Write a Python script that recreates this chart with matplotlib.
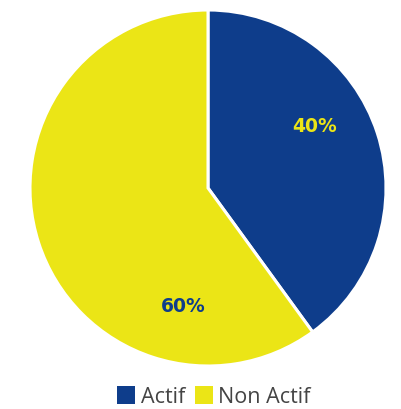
import matplotlib.pyplot as plt
import numpy as np

labels = ['Actif', 'Non Actif']
values = [40, 60]
colors = ['#0e3d8b', '#ebe516']
label_colors = ['#ebe516', '#0e3d8b']
# label angle (deg) and radial fraction, as placed in the reference
label_angle = [30, -102]
label_r = [0.69, 0.68]

fig = plt.figure(figsize=(4.02, 4.09), dpi=100, facecolor='w')
ax = fig.add_axes([30/402, 43/409, 356/402, 356/409])

wedges, _ = ax.pie(values, colors=colors, startangle=90, counterclock=False,
                   wedgeprops=dict(edgecolor='white', linewidth=2.2))
ax.set_xlim(-1, 1)
ax.set_ylim(-1, 1)
ax.set_aspect('equal')

for i, v in enumerate(values):
    a = np.deg2rad(label_angle[i])
    ax.text(label_r[i]*np.cos(a), label_r[i]*np.sin(a), '%d%%' % v,
            ha='center', va='center', fontsize=13.5, fontweight='bold',
            color=label_colors[i], family='DejaVu Sans')

leg = fig.legend(wedges, labels, loc='center', bbox_to_anchor=(214/402, 1 - 397/409),
                 ncol=2, frameon=False, handlelength=0.85, handleheight=0.85,
                 handletextpad=0.25, columnspacing=0.45,
                 prop=dict(family='Open Sans', size=15.5, weight='normal'))
for t in leg.get_texts():
    t.set_color('#444444')
for h in leg.legend_handles:
    h.set_edgecolor('none')

fig.savefig('out.png', dpi=100)
